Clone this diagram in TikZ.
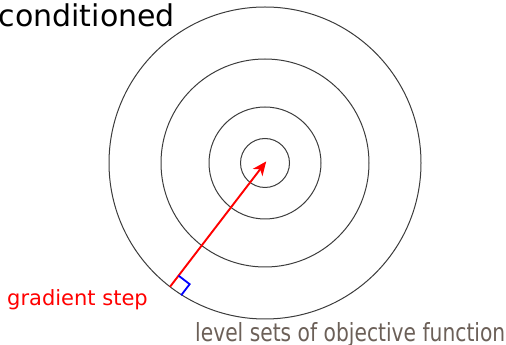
\documentclass[tikz,border=0pt]{standalone}
\usepackage{fontspec}
\setmainfont{DejaVu Sans}
\usepackage{graphicx}
\usetikzlibrary{arrows.meta,calc}
\definecolor{levelcol}{RGB}{108,96,88}
\definecolor{ringcol}{RGB}{60,60,60}
\tikzset{
  ring/.style={draw=ringcol, line width=1pt},
  gradarrow/.style={draw=red, line width=1.9pt, -{Stealth[length=14pt,width=12pt,inset=4pt]}},
  rightmark/.style={draw=blue, line width=1.8pt},
  lbl/.style={inner sep=0pt, anchor=base west}
}
\begin{document}
\begin{tikzpicture}[x=1pt,y=1pt]
\useasboundingbox (0,0) rectangle (506,345);
\coordinate (C) at (265,182);
\node[ring, circle, minimum size=49pt, inner sep=0pt] (r1) at (C) {};
\node[ring, circle, minimum size=112pt, inner sep=0pt] (r2) at (C) {};
\node[ring, circle, minimum size=208pt, inner sep=0pt] (r3) at (C) {};
\node[ring, circle, minimum size=312pt, inner sep=0pt] (r4) at (C) {};
\coordinate (S) at ($(C)+(232.5:156)$);
\coordinate (T) at ($(C)+(52.5:2)$);
\coordinate (A) at ($(S)+(52.5:14)$);
\coordinate (B) at ($(A)+(-37.5:14)$);
\coordinate (D) at ($(S)+(-37.5:14)$);
\draw[gradarrow] (S) -- (T);
\draw[rightmark] (A) -- (B) -- (D);
\node[lbl, font=\fontsize{30}{34}\selectfont] (title) at (-1.5,318.3) {conditioned};
\node[lbl, text=red, font=\fontsize{21}{25}\selectfont] (grad) at (7,39.3) {gradient step};
\node[lbl, text=levelcol, font=\fontsize{25}{30}\selectfont] (level) at (195,3) {\scalebox{0.81}[1]{level sets of objective function}};
\end{tikzpicture}
\end{document}
